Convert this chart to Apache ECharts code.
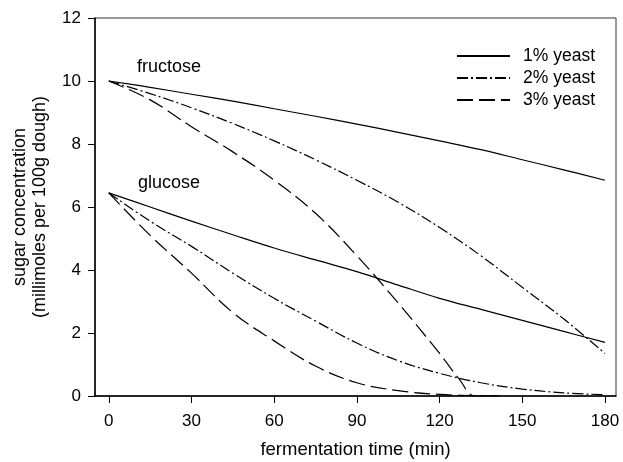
<!DOCTYPE html>
<html>
<head>
<meta charset="utf-8">
<script src="https://cdn.jsdelivr.net/npm/echarts@6/dist/echarts.min.js"></script>
<style>html,body{margin:0;padding:0;background:#fff}#c{width:623px;height:462px}</style>
</head>
<body>
<div id="c"></div>
<script>
// ---- data ----
const xTicks = [0, 30, 60, 90, 120, 150, 180];
const times15 = [0, 15, 30, 45, 60, 75, 90, 105, 120, 135, 150, 165, 180];
const fructose1 = [10, 9.8, 9.58, 9.36, 9.12, 8.88, 8.63, 8.37, 8.1, 7.82, 7.5, 7.18, 6.85];
const fructose2 = [10, 9.6, 9.15, 8.65, 8.1, 7.5, 6.85, 6.15, 5.35, 4.45, 3.45, 2.45, 1.35];
const fructose3Times = [0, 15, 30, 45, 60, 75, 90, 105, 120, 127, 133, 142];
const fructose3 = [10, 9.4, 8.55, 7.75, 6.85, 5.8, 4.45, 2.95, 1.35, 0.55, 0, 0];
const glucose1 = [6.45, 6.0, 5.55, 5.12, 4.7, 4.32, 3.95, 3.52, 3.1, 2.75, 2.4, 2.05, 1.7];
const glucose2 = [6.45, 5.55, 4.75, 3.9, 3.1, 2.38, 1.68, 1.12, 0.72, 0.42, 0.22, 0.1, 0.04];
const glucose3Times = [0, 15, 30, 45, 60, 75, 90, 105, 120, 135, 142];
const glucose3 = [6.45, 5.1, 3.9, 2.65, 1.75, 0.95, 0.42, 0.17, 0.05, 0.01, 0];
const seriesNames = ['1% yeast', '2% yeast', '3% yeast'];

const pairs = (t, v) => t.map((x, i) => [x, v[i]]);
const FONT = 'Liberation Sans, Arial, sans-serif';
const styles = [
  { type: 'solid' },
  { type: [11, 3, 2, 3] },
  { type: [16, 6] }
];
function mk(name, data, idx) {
  return {
    name: name, type: 'line', data: data, showSymbol: false, symbol: 'none',
    smooth: 0.4, clip: true,
    lineStyle: Object.assign({ color: '#000', width: 1.2 }, styles[idx]),
    itemStyle: { color: '#000' }, silent: true, animation: false
  };
}
const chart = echarts.init(document.getElementById('c'));
chart.setOption({
  animation: false,
  backgroundColor: '#fff',
  grid: { left: 95, right: 7, top: 18, bottom: 66, show: true, borderColor: '#333', borderWidth: 1,
          containLabel: false, outerBoundsMode: 'none' },
  legend: {
    orient: 'vertical', right: 23, top: 42, itemWidth: 53, itemHeight: 8, itemGap: 4,
    data: seriesNames,
    itemStyle: { opacity: 0 },
    textStyle: { fontFamily: FONT, fontSize: 17.5, color: '#000', padding: [0, 0, 0, 8] }
  },
  xAxis: {
    type: 'value', min: -5, max: 184,
    name: 'fermentation time (min)', nameLocation: 'middle', nameGap: 44,
    nameTextStyle: { fontFamily: FONT, fontSize: 18.5, color: '#000' },
    axisLine: { onZero: false, lineStyle: { color: '#000', width: 1.5 } },
    axisTick: { show: true, length: 7, lineStyle: { color: '#000' }, customValues: xTicks },
    axisLabel: { fontFamily: FONT, fontSize: 17, color: '#000', margin: 17, customValues: xTicks },
    splitLine: { show: false }
  },
  yAxis: {
    type: 'value', min: 0, max: 12, interval: 2,
    name: 'sugar concentration\n(millimoles per 100g dough)', nameLocation: 'middle', nameGap: 45,
    nameRotate: 90,
    nameTextStyle: { fontFamily: FONT, fontSize: 18, color: '#000', lineHeight: 20 },
    axisLine: { show: true, onZero: false, lineStyle: { color: '#000', width: 1.5 } },
    axisTick: { show: true, length: 7, lineStyle: { color: '#000' } },
    axisLabel: { fontFamily: FONT, fontSize: 17, color: '#000', margin: 14 },
    splitLine: { show: false }
  },
  graphic: [
    { type: 'text', left: 137, top: 58, style: { text: 'fructose', font: '18px ' + FONT, fill: '#000' } },
    { type: 'text', left: 138, top: 174, style: { text: 'glucose', font: '18px ' + FONT, fill: '#000' } }
  ],
  series: [
    mk(seriesNames[0], pairs(times15, fructose1), 0),
    mk(seriesNames[1], pairs(times15, fructose2), 1),
    mk(seriesNames[2], pairs(fructose3Times, fructose3), 2),
    mk(seriesNames[0], pairs(times15, glucose1), 0),
    mk(seriesNames[1], pairs(times15, glucose2), 1),
    mk(seriesNames[2], pairs(glucose3Times, glucose3), 2)
  ]
});
</script>
</body>
</html>
